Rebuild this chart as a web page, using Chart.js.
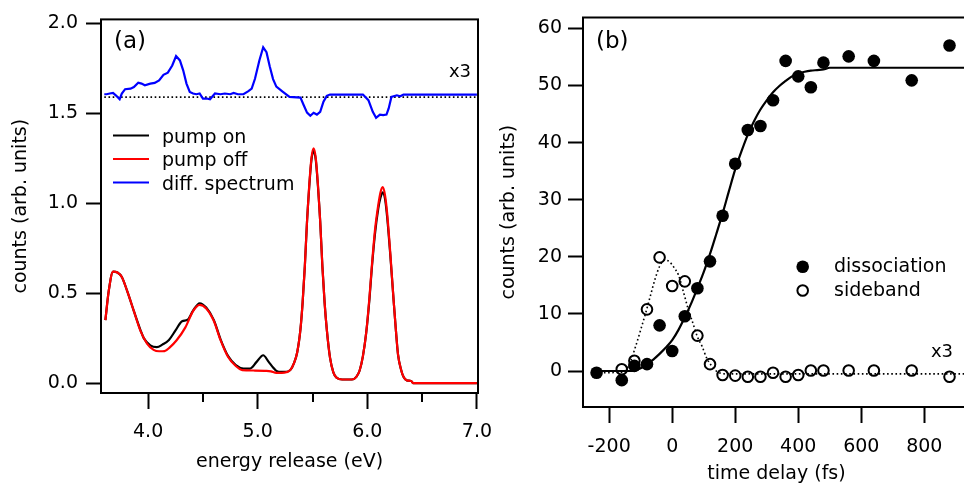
<!DOCTYPE html>
<html><head><meta charset="utf-8">
<script src="https://cdn.jsdelivr.net/npm/chart.js@4/dist/chart.umd.min.js"></script>
<style>
html,body{margin:0;padding:0;background:#fff;overflow:hidden;width:964px;height:485px;}
#ca{position:absolute;left:0;top:0;}
#cb{position:absolute;left:490px;top:0;}
</style></head><body>
<canvas id="ca" width="520" height="485"></canvas>
<canvas id="cb" width="500" height="485"></canvas>
<script>
// ---------- panel (a) data ----------
const energyOff = [3.61,3.64,3.68,3.72,3.76,3.81,3.87,3.93,3.99,4.05,4.10,4.15,4.20,4.26,4.34,4.41,4.47,4.53,4.60,4.66,4.73,4.80,4.86,4.96,5.08,5.12,5.17,5.22,5.26,5.30,5.33,5.36,5.39,5.41,5.43,5.45,5.47,5.49,5.51,5.53,5.55,5.57,5.59,5.61,5.63,5.66,5.69,5.72,5.77,5.86,5.90,5.93,5.96,5.99,6.02,6.04,6.07,6.10,6.12,6.14,6.16,6.18,6.21,6.24,6.26,6.28,6.31,6.33,6.36,6.40,6.42,7.00];
const pumpOff = [0.35,0.51,0.62,0.615,0.59,0.51,0.40,0.29,0.22,0.185,0.177,0.178,0.20,0.238,0.31,0.40,0.435,0.415,0.345,0.24,0.145,0.095,0.072,0.07,0.068,0.065,0.057,0.057,0.06,0.075,0.11,0.17,0.30,0.45,0.65,0.90,1.10,1.25,1.305,1.25,1.10,0.90,0.65,0.45,0.30,0.14,0.06,0.03,0.02,0.02,0.035,0.07,0.15,0.28,0.48,0.64,0.85,0.99,1.06,1.09,1.05,0.95,0.72,0.46,0.30,0.16,0.07,0.035,0.015,0.012,0.0,0.0];
const energyOn = [3.61,3.64,3.68,3.72,3.76,3.81,3.87,3.93,3.96,4.02,4.08,4.13,4.19,4.25,4.31,4.36,4.41,4.47,4.53,4.60,4.66,4.73,4.80,4.87,4.93,4.99,5.05,5.10,5.14,5.17,5.22,5.26,5.30,5.33,5.36,5.39,5.41,5.43,5.45,5.47,5.49,5.51,5.53,5.55,5.57,5.59,5.61,5.63,5.66,5.69,5.72,5.77,5.86,5.90,5.93,5.96,5.99,6.02,6.04,6.07,6.10,6.12,6.14,6.16,6.18,6.21,6.24,6.26,6.28,6.31,6.33,6.36,6.40,6.42,7.00];
const pumpOn = [0.35,0.51,0.62,0.615,0.59,0.51,0.40,0.295,0.25,0.21,0.20,0.214,0.24,0.293,0.344,0.352,0.403,0.444,0.42,0.35,0.245,0.15,0.10,0.081,0.081,0.118,0.155,0.118,0.087,0.068,0.062,0.062,0.075,0.11,0.17,0.30,0.45,0.65,0.90,1.09,1.24,1.29,1.24,1.09,0.90,0.65,0.45,0.30,0.14,0.06,0.03,0.02,0.02,0.035,0.07,0.15,0.28,0.47,0.63,0.83,0.97,1.03,1.06,1.03,0.93,0.71,0.46,0.30,0.16,0.07,0.035,0.015,0.012,0.0,0.0];
const energyDiff = [3.60,3.62,3.65,3.68,3.71,3.74,3.76,3.79,3.84,3.87,3.91,3.94,3.97,4.02,4.06,4.10,4.14,4.18,4.22,4.255,4.29,4.32,4.35,4.38,4.41,4.44,4.47,4.50,4.535,4.565,4.61,4.66,4.70,4.75,4.78,4.82,4.87,4.915,4.945,4.975,5.015,5.05,5.08,5.11,5.14,5.17,5.23,5.29,5.39,5.42,5.45,5.48,5.51,5.54,5.57,5.60,5.63,5.66,5.96,6.01,6.05,6.08,6.115,6.145,6.175,6.195,6.22,6.27,6.30,6.33,7.00];
const diffSpectrum = [1.606,1.606,1.61,1.613,1.597,1.578,1.61,1.634,1.637,1.646,1.67,1.665,1.656,1.665,1.669,1.683,1.714,1.726,1.766,1.818,1.794,1.739,1.665,1.619,1.61,1.606,1.61,1.582,1.582,1.578,1.61,1.606,1.61,1.606,1.613,1.606,1.606,1.623,1.637,1.692,1.794,1.867,1.84,1.76,1.69,1.648,1.619,1.591,1.587,1.545,1.504,1.486,1.503,1.493,1.508,1.564,1.597,1.604,1.604,1.573,1.508,1.475,1.493,1.49,1.493,1.527,1.591,1.60,1.595,1.604,1.604];
const diffZeroEnergy = [3.60,7.00];
const diffZeroLevel = [1.59,1.59];
const energyTicks = [4.0,5.0,6.0,7.0];
const energyMinorTicks = [4.5,5.5,6.5];
const countTicksA = [0.0,0.5,1.0,1.5,2.0];

// ---------- panel (b) data ----------
const delayDiss = [-240,-160,-120,-80,-40,0,40,80,120,160,200,240,280,320,360,400,440,480,560,640,760,880];
const dissociation = [-0.3,-1.6,0.9,1.2,8.0,3.5,9.6,14.5,19.2,27.2,36.3,42.2,42.9,47.4,54.3,51.6,49.7,54.0,55.1,54.3,50.9,57.0];
const delaySide = [-160,-120,-80,-40,0,40,80,120,160,200,240,280,320,360,400,440,480,560,640,760,880];
const sideband = [0.3,1.8,10.8,19.9,14.9,15.7,6.2,1.2,-0.7,-0.8,-1.0,-1.0,-0.3,-1.0,-0.7,0.1,0.1,0.1,0.1,0.1,-1.0];
const fitDelayDiss = [-240,-200,-160,-130,-100,-80,-60,-40,-20,0,20,40,60,80,100,120,140,160,180,200,220,240,260,280,300,320,340,360,380,400,420,440,460,480,500,520,945];
const fitDiss = [0,0,0,0,0.5,1.2,2.0,3.0,4.1,5.4,7.2,9.4,11.8,14.5,17.3,20.5,24.0,27.6,31.5,35.3,38.5,41.4,43.8,45.8,47.4,48.8,49.9,50.8,51.6,52.1,52.4,52.6,52.7,52.8,53.1,53.1,53.1];
const fitDelaySide = [-230,-160,-145,-130,-115,-100,-85,-70,-55,-40,-25,-10,5,20,35,50,65,80,95,110,125,140,155,170,945];
const fitSide = [-0.3,-0.2,0.3,2.0,4.5,7.2,10.0,13.0,16.0,18.3,19.4,19.2,18.2,16.8,14.0,11.0,8.5,6.0,4.3,2.2,0.9,0.0,-0.4,-0.5,-0.5];
const delayTicks = [-200,0,200,400,600,800];
const countTicksB = [0,10,20,30,40,50,60];

const FONT = '"DejaVu Sans", Verdana, sans-serif';
Chart.defaults.font.family = FONT;
Chart.defaults.font.size = 19;
Chart.defaults.color = '#000';
const pts = (xs, ys) => xs.map((x, i) => ({x, y: ys[i]}));
const tickSet = arr => (s => { s.ticks = arr.map(v => ({value: v})); });
const fnt = {family: FONT, size: 19, lineHeight: 1.2};

function line(ctx, x1, y1, x2, y2){ctx.beginPath();ctx.moveTo(x1,y1);ctx.lineTo(x2,y2);ctx.stroke();}

const panelA = {
  id: 'panelA',
  afterDraw(chart) {
    const {ctx, chartArea: a, scales: {x}} = chart;
    ctx.save();
    ctx.strokeStyle = '#000'; ctx.lineWidth = 2; ctx.setLineDash([]);
    ctx.strokeRect(a.left, a.top, a.right - a.left, a.bottom - a.top);
    for (const v of energyMinorTicks) {
      const px = Math.round(x.getPixelForValue(v));
      line(ctx, px, a.bottom, px, a.bottom + 9);
    }
    ctx.fillStyle = '#000';
    ctx.font = '23px ' + FONT; ctx.textBaseline = 'middle'; ctx.textAlign = 'left';
    ctx.fillText('(a)', 114, 42);
    ctx.font = '18px ' + FONT; ctx.textAlign = 'right';
    ctx.fillText('x3', 471, 72);
    ctx.font = '19px ' + FONT; ctx.textAlign = 'left';
    const rows = [135.5, 159, 182.5];
    chart.data.datasets.filter(d => d.label).forEach((d, i) => {
      ctx.strokeStyle = d.borderColor; ctx.lineWidth = 2.2;
      line(ctx, 113, rows[i], 149, rows[i]);
      ctx.fillStyle = '#000';
      ctx.fillText(d.label, 162, rows[i] + 2.5);
    });
    ctx.restore();
  }
};

new Chart(document.getElementById('ca'), {
  type: 'line',
  data: {
    datasets: [
      {label: 'pump on', data: pts(energyOn, pumpOn), borderColor: '#000000', borderWidth: 2.2, pointRadius: 0, cubicInterpolationMode: 'monotone', order: 3},
      {label: 'pump off', data: pts(energyOff, pumpOff), borderColor: '#ff0000', borderWidth: 2.2, pointRadius: 0, cubicInterpolationMode: 'monotone', order: 2},
      {label: 'diff. spectrum', data: pts(energyDiff, diffSpectrum), borderColor: '#0000ff', borderWidth: 2.2, pointRadius: 0, tension: 0, order: 1},
      {label: '', data: pts(diffZeroEnergy, diffZeroLevel), borderColor: '#000000', borderWidth: 1.6, borderDash: [1.6, 2.6], pointRadius: 0, order: 4}
    ]
  },
  options: {
    responsive: false, animation: false, devicePixelRatio: 1,
    layout: {padding: {left: 0, top: 17, right: 42, bottom: 0}},
    plugins: {legend: {display: false}, tooltip: {enabled: false}},
    scales: {
      x: {
        type: 'linear', min: 3.57, max: 7.01,
        border: {display: false},
        grid: {display: true, drawOnChartArea: false, drawTicks: true, tickLength: 16, tickWidth: 2, tickColor: '#000'},
        afterBuildTicks: tickSet(energyTicks),
        ticks: {autoSkip: false, maxRotation: 0, padding: 12, color: '#000', font: fnt, callback: v => v.toFixed(1)},
        title: {display: true, text: 'energy release (eV)', font: fnt, color: '#000', padding: {top: 0, bottom: 12}},
        afterFit: s => { s.height = 92; }
      },
      y: {
        type: 'linear', min: -0.055, max: 2.022,
        border: {display: false},
        grid: {display: true, drawOnChartArea: false, drawTicks: true, tickLength: 15, tickWidth: 2, tickColor: '#000'},
        afterBuildTicks: tickSet(countTicksA),
        ticks: {autoSkip: false, padding: 8, color: '#000', font: fnt, callback: v => v.toFixed(1)},
        title: {display: true, text: 'counts (arb. units)', font: fnt, color: '#000', padding: {top: 10, bottom: 0}},
        afterFit: s => { s.width = 101; }
      }
    }
  },
  plugins: [panelA]
});

const panelB = {
  id: 'panelB',
  afterDraw(chart) {
    const {ctx, chartArea: a} = chart;
    ctx.save();
    ctx.strokeStyle = '#000'; ctx.lineWidth = 2; ctx.setLineDash([]);
    ctx.beginPath();
    ctx.moveTo(chart.width, a.top); ctx.lineTo(a.left, a.top); ctx.lineTo(a.left, a.bottom); ctx.lineTo(chart.width, a.bottom);
    ctx.stroke();
    ctx.fillStyle = '#000';
    ctx.font = '23px ' + FONT; ctx.textBaseline = 'middle'; ctx.textAlign = 'left';
    ctx.fillText('(b)', 106, 42);
    ctx.font = '18px ' + FONT; ctx.textAlign = 'right';
    ctx.fillText('x3', 463, 352);
    ctx.font = '19px ' + FONT; ctx.textAlign = 'left';
    const rows = [266.7, 290.5];
    chart.data.datasets.filter(d => d.label).forEach((d, i) => {
      ctx.beginPath();
      ctx.arc(312.7, rows[i], d.pointRadius, 0, Math.PI * 2);
      if (d.pointBackgroundColor !== 'rgba(0,0,0,0)') { ctx.fillStyle = d.pointBackgroundColor; ctx.fill(); }
      if (d.pointBorderWidth > 0) { ctx.lineWidth = d.pointBorderWidth; ctx.strokeStyle = d.pointBorderColor; ctx.stroke(); }
      ctx.fillStyle = '#000';
      ctx.fillText(d.label, 344, rows[i] + 0.5);
    });
    ctx.restore();
  }
};

new Chart(document.getElementById('cb'), {
  type: 'line',
  data: {
    datasets: [
      {label: 'dissociation', data: pts(delayDiss, dissociation), showLine: false, pointRadius: 6.3, pointBackgroundColor: '#000000', pointBorderColor: '#000000', pointBorderWidth: 0, order: 1},
      {label: 'sideband', data: pts(delaySide, sideband), showLine: false, pointRadius: 5.3, pointBackgroundColor: 'rgba(0,0,0,0)', pointBorderColor: '#000000', pointBorderWidth: 2, order: 2},
      {label: '', data: pts(fitDelayDiss, fitDiss), borderColor: '#000000', borderWidth: 2.2, pointRadius: 0, cubicInterpolationMode: 'monotone', order: 3},
      {label: '', data: pts(fitDelaySide, fitSide), borderColor: '#000000', borderWidth: 1.6, borderDash: [1.6, 2.6], pointRadius: 0, cubicInterpolationMode: 'monotone', order: 4}
    ]
  },
  options: {
    responsive: false, animation: false, devicePixelRatio: 1,
    layout: {padding: {left: 0, top: 17, right: 20, bottom: 0}},
    plugins: {legend: {display: false}, tooltip: {enabled: false}},
    scales: {
      x: {
        type: 'linear', min: -283, max: 945,
        border: {display: false},
        grid: {display: true, drawOnChartArea: false, drawTicks: true, tickLength: 16, tickWidth: 2, tickColor: '#000'},
        afterBuildTicks: tickSet(delayTicks),
        ticks: {autoSkip: false, maxRotation: 0, padding: 13, color: '#000', font: fnt, callback: v => String(v)},
        title: {display: true, text: 'time delay (fs)', font: fnt, color: '#000', padding: {top: 0, bottom: 0}},
        afterFit: s => { s.height = 78; }
      },
      y: {
        type: 'linear', min: -6.3, max: 61.92,
        border: {display: false},
        grid: {display: true, drawOnChartArea: false, drawTicks: true, tickLength: 15, tickWidth: 2, tickColor: '#000'},
        afterBuildTicks: tickSet(countTicksB),
        ticks: {autoSkip: false, padding: 6, color: '#000', font: fnt, callback: v => String(v)},
        title: {display: true, text: 'counts (arb. units)', font: fnt, color: '#000', padding: {top: 8, bottom: 0}},
        afterFit: s => { s.width = 93; }
      }
    }
  },
  plugins: [panelB]
});
</script>
</body></html>
